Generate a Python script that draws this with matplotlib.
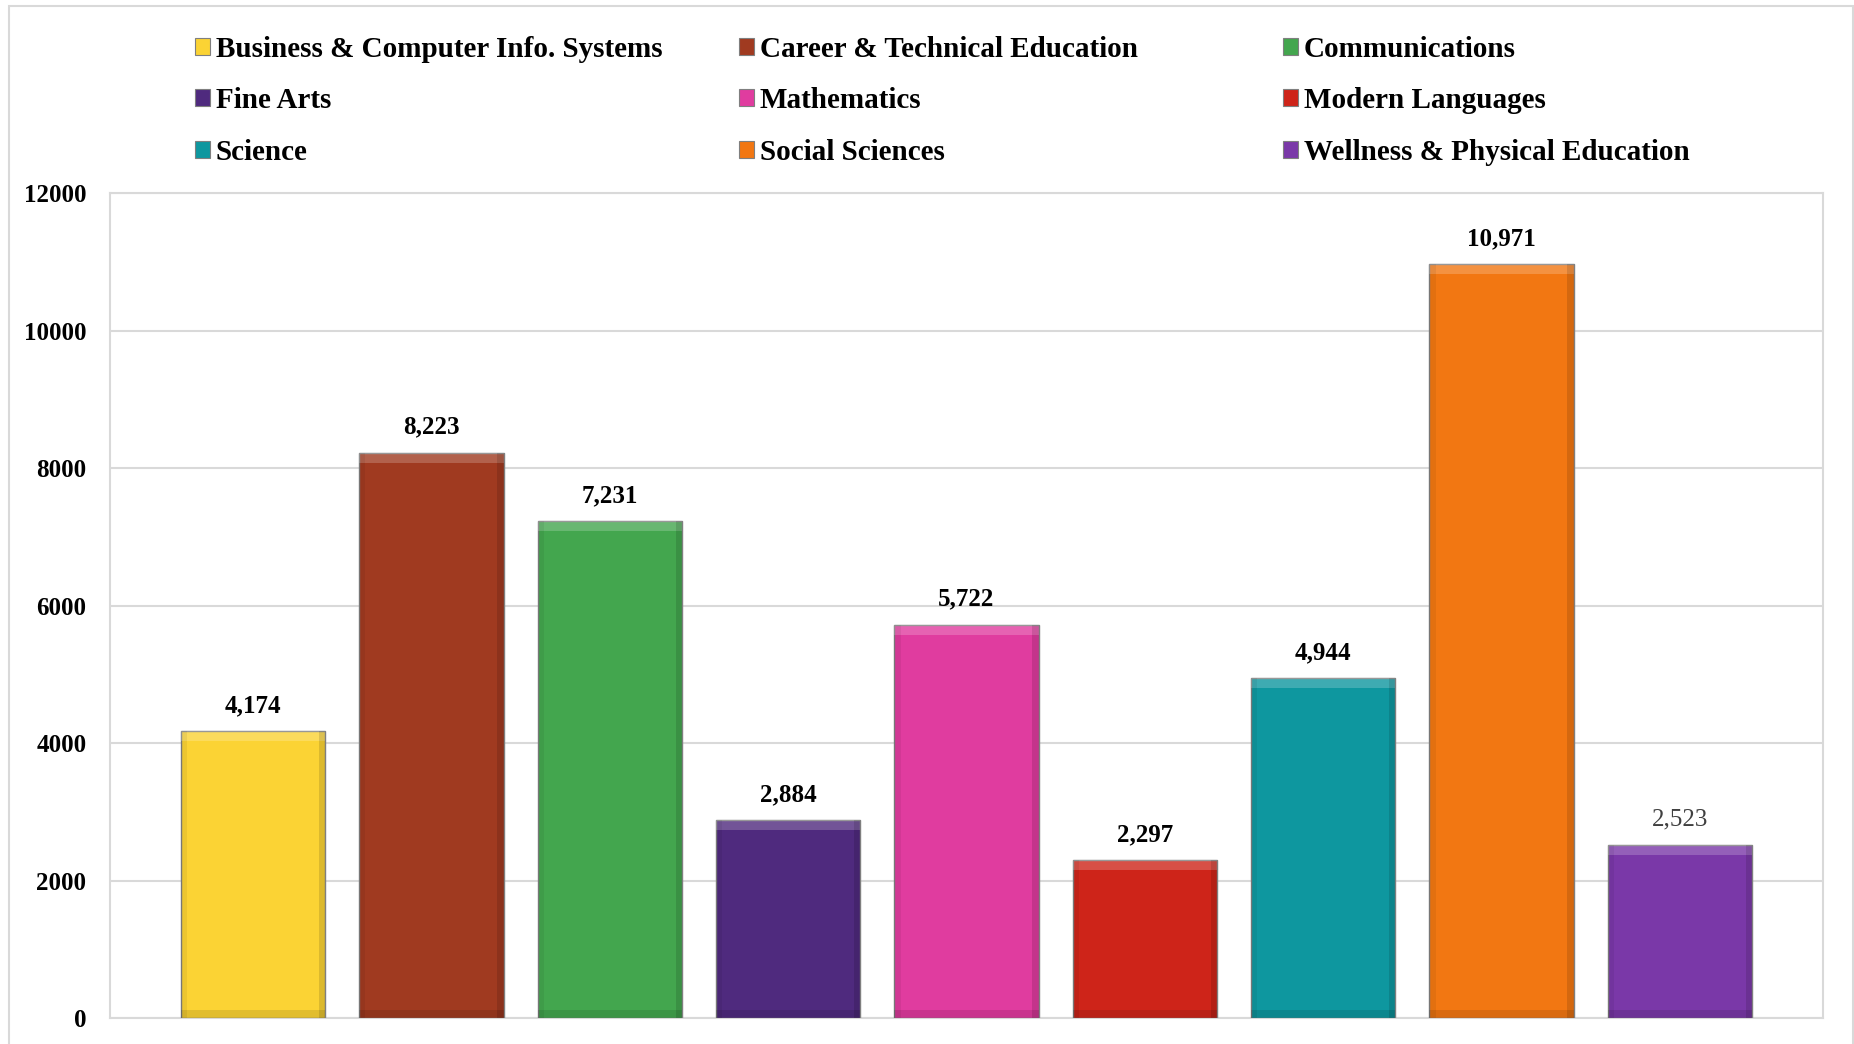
import numpy as np
import matplotlib
matplotlib.use('Agg')
import matplotlib.pyplot as plt
from matplotlib.patches import Patch, Rectangle

# data
departments = ['Business & Computer Info. Systems', 'Career & Technical Education', 'Communications',
               'Fine Arts', 'Mathematics', 'Modern Languages',
               'Science', 'Social Sciences', 'Wellness & Physical Education']
values = [4174, 8223, 7231, 2884, 5722, 2297, 4944, 10971, 2523]
colors = ['#fbd334', '#a03a20', '#43a64e', '#4f2a7e', '#e03c9f', '#ce2419', '#0e979f', '#f27712', '#7a38a8']
yticks = [0, 2000, 4000, 6000, 8000, 10000, 12000]

plt.rcParams['font.family'] = ['Liberation Serif', 'DejaVu Serif']
plt.rcParams['font.weight'] = 'bold'

fig = plt.figure(figsize=(18.54, 10.44), dpi=100)
ax = fig.add_axes([0.0593, 0.0249, 0.924, 0.7902])

x = np.arange(len(values))
bars = ax.bar(x, values, width=0.81, color=colors, edgecolor='#7f7f7f', linewidth=1.0, zorder=3)

# simple bevel: light band at top, darker bands at sides and bottom
for b in bars:
    bx, bw, bh = b.get_x(), b.get_width(), b.get_height()
    ax.add_patch(Rectangle((bx, bh - 150), bw, 150, facecolor='white', alpha=0.2, linewidth=0, zorder=4))
    ax.add_patch(Rectangle((bx + bw - 0.035, 0), 0.035, bh, facecolor='black', alpha=0.12, linewidth=0, zorder=4))
    ax.add_patch(Rectangle((bx, 0), 0.035, bh, facecolor='black', alpha=0.06, linewidth=0, zorder=4))
    ax.add_patch(Rectangle((bx, 0), bw, 110, facecolor='black', alpha=0.1, linewidth=0, zorder=4))

for i, v in enumerate(values):
    last = i == len(values) - 1
    ax.annotate('{:,}'.format(v), (x[i], v), xytext=(0, 10), textcoords='offset points',
                ha='center', va='bottom', fontsize=18,
                fontweight='normal' if last else 'bold',
                color='#404040' if last else 'black')

ax.set_xlim(-0.803, len(values) - 1 + 0.803)
ax.set_ylim(0, 12000)
ax.set_yticks(yticks)
ax.set_xticks([])
ax.tick_params(axis='y', length=0, pad=17, labelsize=18)
ax.yaxis.grid(True, color='#d9d9d9', linewidth=1.5, zorder=0)
for s in ax.spines.values():
    s.set_color('#d9d9d9')
    s.set_linewidth(1.5)

# legend, three columns placed by hand
col_x = [0.105, 0.3985, 0.692]
for c in range(3):
    idx = [c, c + 3, c + 6]
    handles = [Patch(facecolor=colors[i], edgecolor='#7f7f7f', linewidth=0.8) for i in idx]
    fig.legend(handles, [departments[i] for i in idx], loc='upper left',
               bbox_to_anchor=(col_x[c], 0.9654), frameon=False, fontsize=21,
               handlelength=0.52, handleheight=0.52, handletextpad=0.2,
               labelspacing=0.83, borderaxespad=0, borderpad=0)

# outer frame (bottom edge runs off the picture)
fig.patches.append(Rectangle((0.00485, -0.01), 0.9946, 1.0043, transform=fig.transFigure,
                             fill=False, edgecolor='#d9d9d9', linewidth=1.5))

fig.savefig('out.png', dpi=100)
